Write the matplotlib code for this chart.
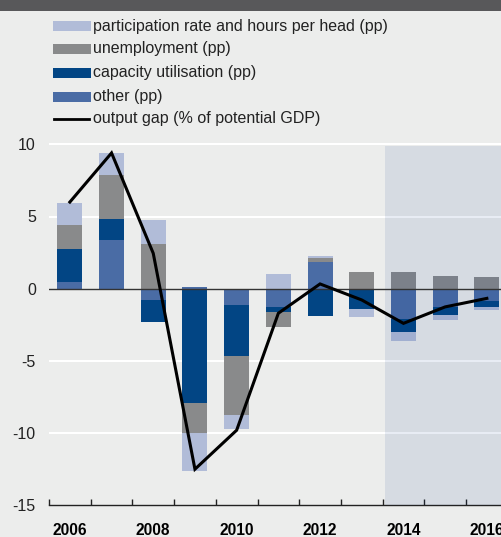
import numpy as np
import matplotlib
matplotlib.use("Agg")
import matplotlib.pyplot as plt
from matplotlib.patches import Rectangle
from matplotlib.lines import Line2D

years = [2006, 2007, 2008, 2009, 2010, 2011, 2012, 2013, 2014, 2015, 2016]
other = [0.46, 3.35, -0.76, 0.15, -1.15, -1.27, 1.87, -0.12, -2.12, -1.25, -0.85]
capacity = [2.31, 1.50, -1.57, -7.94, -3.51, -0.34, -1.89, -1.29, -0.86, -0.57, -0.42]
unemployment = [1.62, 3.05, 3.12, -2.03, -4.09, -1.07, 0.26, 1.16, 1.16, 0.90, 0.81]
participation = [1.57, 1.47, 1.64, -2.63, -0.97, 1.00, 0.13, -0.55, -0.62, -0.33, -0.18]
output_gap = [6.0, 9.4, 2.45, -12.5, -9.8, -1.7, 0.33, -0.78, -2.4, -1.26, -0.67]
tick_labels = ["2006", "", "2008", "", "2010", "", "2012", "", "2014", "", "2016"]
forecast_start = 2014

series = [
    ("other (pp)", other, "#4A6CA5"),
    ("capacity utilisation (pp)", capacity, "#024584"),
    ("unemployment (pp)", unemployment, "#898A8B"),
    ("participation rate and hours per head (pp)", participation, "#B1BCD8"),
]
legend_order = [3, 2, 1, 0]

W, H = 502, 537
fig = plt.figure(figsize=(W / 100, H / 100), dpi=100)
bg = "#ECEDEC"
fig.patch.set_facecolor(bg)
plt.rcParams["font.family"] = ["Liberation Sans", "DejaVu Sans"]

ymin, ymax = -15, 10.5
ppu = 14.44
y_bottom_px = 505.3
ax_h_px = (ymax - ymin) * ppu
ax_left_px = 49
ax_w_px = 11 * 41.7
ax = fig.add_axes([ax_left_px / W, (H - y_bottom_px) / H, ax_w_px / W, ax_h_px / H])
ax.set_facecolor(bg)

x = np.arange(len(years))
pos_base = np.zeros(len(years))
neg_base = np.zeros(len(years))
for name, vals, col in series:
    v = np.array(vals, dtype=float)
    pos = np.where(v > 0, v, 0)
    neg = np.where(v < 0, v, 0)
    ax.bar(x, pos, bottom=pos_base, width=0.6, color=col, zorder=3, linewidth=0)
    ax.bar(x, neg, bottom=neg_base, width=0.6, color=col, zorder=3, linewidth=0)
    pos_base += pos
    neg_base += neg

fi = years.index(forecast_start)
ax.add_patch(Rectangle((fi - 0.45, ymin), 20, 9.9 - ymin, facecolor="#003088",
                       alpha=0.09, linewidth=0, zorder=4))

ax.plot(x, output_gap, color="black", linewidth=2.2, zorder=6, solid_joinstyle="miter")

for gy in [10, 5, -5, -10]:
    ax.axhline(gy, color="white", linewidth=1.5, zorder=1)
ax.axhline(0, color="#333333", linewidth=1.0, zorder=5)

ax.set_xlim(-0.5, len(years) - 0.5)
ax.set_ylim(ymin, ymax)
for s in ["left", "right", "top"]:
    ax.spines[s].set_visible(False)
ax.spines["bottom"].set_color("#222222")
ax.spines["bottom"].set_linewidth(1.0)
ax.set_yticks([10, 5, 0, -5, -10, -15])
ax.set_yticklabels(["10", "5", "0", "-5", "-10", "-15"])
ax.tick_params(axis="y", length=0, pad=9.5, labelsize=11.5, labelcolor="#222222")
ax.set_xticks(x)
ax.set_xticklabels(tick_labels, fontweight="bold", fontsize=11.2)
ax.tick_params(axis="x", length=0, pad=13)
ax.set_xticks(np.arange(-0.5, len(years)), minor=True)
ax.tick_params(axis="x", which="minor", direction="in", length=4, width=1, color="#222222")

# top band
fig.add_artist(Rectangle((0, 1 - 11 / H), 1, 11 / H, transform=fig.transFigure,
                         facecolor="#58585A", linewidth=0))

# legend
row_y = [26, 49, 73, 97, 119]
for i, k in enumerate(legend_order):
    name, vals, col = series[k]
    yc = row_y[i]
    fig.add_artist(Rectangle((53 / W, 1 - (yc + 5) / H), 38.5 / W, 10 / H,
                             transform=fig.transFigure, facecolor=col, linewidth=0))
    fig.text(93 / W, 1 - yc / H, name, ha="left", va="center", fontsize=11.5, color="#222222")
yc = row_y[4]
fig.add_artist(Line2D([54 / W, 89 / W], [1 - yc / H, 1 - yc / H], transform=fig.transFigure,
                      color="black", linewidth=2))
fig.text(93 / W, 1 - yc / H, "output gap (% of potential GDP)", ha="left", va="center",
         fontsize=11.5, color="#222222")

fig.savefig("out.png", dpi=100, facecolor=bg)
